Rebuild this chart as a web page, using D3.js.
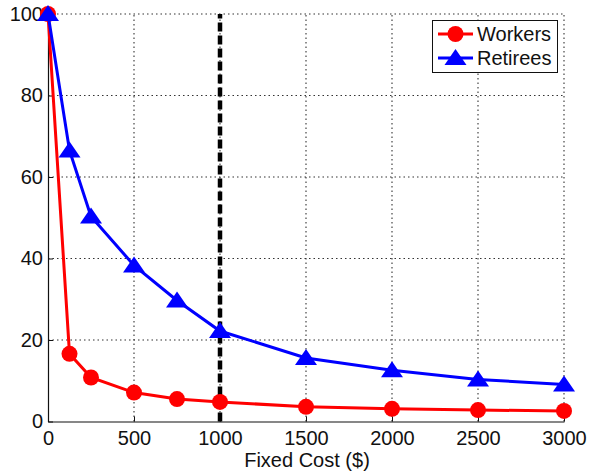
<!DOCTYPE html>
<html>
<head>
<meta charset="utf-8">
<script src="https://cdn.jsdelivr.net/npm/d3@7"></script>
<style>
  body { margin: 0; background: #fff; }
  text { font-family: "Liberation Sans", Arial, sans-serif; fill: #111; }
</style>
</head>
<body>
<svg id="chart" width="590" height="472"></svg>
<script>
const fixedCost = [0, 125, 250, 500, 750, 1000, 1500, 2000, 2500, 3000];
const workers   = [100, 16.6, 10.8, 7.1, 5.5, 4.8, 3.6, 3.1, 2.8, 2.6];
const retirees  = [100, 66.5, 50.3, 38.3, 29.7, 22.2, 15.6, 12.6, 10.3, 9.1];
const xTicks = [0, 500, 1000, 1500, 2000, 2500, 3000];
const yTicks = [0, 20, 40, 60, 80, 100];
const cutoff = [1000];
const seriesNames = ["Workers", "Retirees"];

const svg = d3.select("#chart");
const x = d3.scaleLinear().domain([0, 3000]).range([48, 564]);
const y = d3.scaleLinear().domain([0, 100]).range([421.5, 14]);

// grid
const grid = svg.append("g");
grid.selectAll("line.gx").data(xTicks.slice(1)).enter().append("line")
  .attr("x1", d => x(d)).attr("x2", d => x(d))
  .attr("y1", y(0)).attr("y2", y(100))
  .attr("stroke", "#333").attr("stroke-width", 1.1).attr("stroke-dasharray", "1.5,3");
grid.selectAll("line.gy").data(yTicks.slice(1)).enter().append("line")
  .attr("x1", x(0)).attr("x2", x(3000))
  .attr("y1", d => y(d)).attr("y2", d => y(d))
  .attr("stroke", "#333").attr("stroke-width", 1.1).attr("stroke-dasharray", "1.5,3");

// axes
const fmt = d3.format("d");
const xAxis = d3.axisBottom(x).tickValues(xTicks).tickFormat(fmt).tickSizeInner(-5).tickSizeOuter(0).tickPadding(8);
const yAxis = d3.axisLeft(y).tickValues(yTicks).tickFormat(fmt).tickSizeInner(-5).tickSizeOuter(0).tickPadding(5);
const gx = svg.append("g").attr("transform", `translate(0,${y(0)})`).call(xAxis);
const gy = svg.append("g").attr("transform", `translate(${x(0)},0)`).call(yAxis);
[gx, gy].forEach(g => {
  g.attr("font-size", null).attr("font-family", null);
  g.select(".domain").attr("stroke", "#111").attr("stroke-width", 1.2);
  g.selectAll(".tick line").attr("stroke", "#111");
  g.selectAll("text").style("font-family", "Liberation Sans, Arial, sans-serif")
    .style("font-size", "20px").attr("fill", "#111");
});
gx.selectAll("text").attr("dy", "0.75em");

// cutoff dashed line
svg.selectAll("line.cut").data(cutoff).enter().append("line")
  .attr("x1", d => x(d)).attr("x2", d => x(d))
  .attr("y1", y(0)).attr("y2", y(100))
  .attr("stroke", "#000").attr("stroke-width", 4.5).attr("stroke-dasharray", "9,4");

const line = d3.line().x((d, i) => x(fixedCost[i])).y(d => y(d));

// workers
svg.append("path").datum(workers).attr("d", line)
  .attr("fill", "none").attr("stroke", "#ff0000").attr("stroke-width", 3);
svg.selectAll("circle.w").data(workers).enter().append("circle")
  .attr("cx", (d, i) => x(fixedCost[i])).attr("cy", d => y(d)).attr("r", 8)
  .attr("fill", "#ff0000");

// retirees
svg.append("path").datum(retirees).attr("d", line)
  .attr("fill", "none").attr("stroke", "#0000ff").attr("stroke-width", 3);
svg.selectAll("path.r").data(retirees).enter().append("path")
  .attr("d", "M0,-9L11,7L-11,7Z")
  .attr("transform", (d, i) => `translate(${x(fixedCost[i])},${y(d)})`)
  .attr("fill", "#0000ff");

// legend
const lg = svg.append("g");
lg.append("rect").attr("x", 432.5).attr("y", 20.5).attr("width", 125).attr("height", 52)
  .attr("fill", "#fff").attr("stroke", "#111").attr("stroke-width", 1);
const colors = ["#ff0000", "#0000ff"];
seriesNames.forEach((name, i) => {
  const cy = 34 + i * 24;
  lg.append("line").attr("x1", 438).attr("x2", 473).attr("y1", cy).attr("y2", cy)
    .attr("stroke", colors[i]).attr("stroke-width", 3);
  if (i === 0) {
    lg.append("circle").attr("cx", 455.5).attr("cy", cy).attr("r", 8).attr("fill", colors[i]);
  } else {
    lg.append("path").attr("d", "M0,-9L11,7L-11,7Z")
      .attr("transform", `translate(455.5,${cy})`).attr("fill", colors[i]);
  }
  lg.append("text").attr("x", 477).attr("y", cy).attr("dy", "0.36em")
    .style("font-size", "20px").text(name);
});

// x label
svg.append("text").attr("x", 307).attr("y", 467).attr("text-anchor", "middle")
  .style("font-size", "20px").text("Fixed Cost ($)");
</script>
</body>
</html>
